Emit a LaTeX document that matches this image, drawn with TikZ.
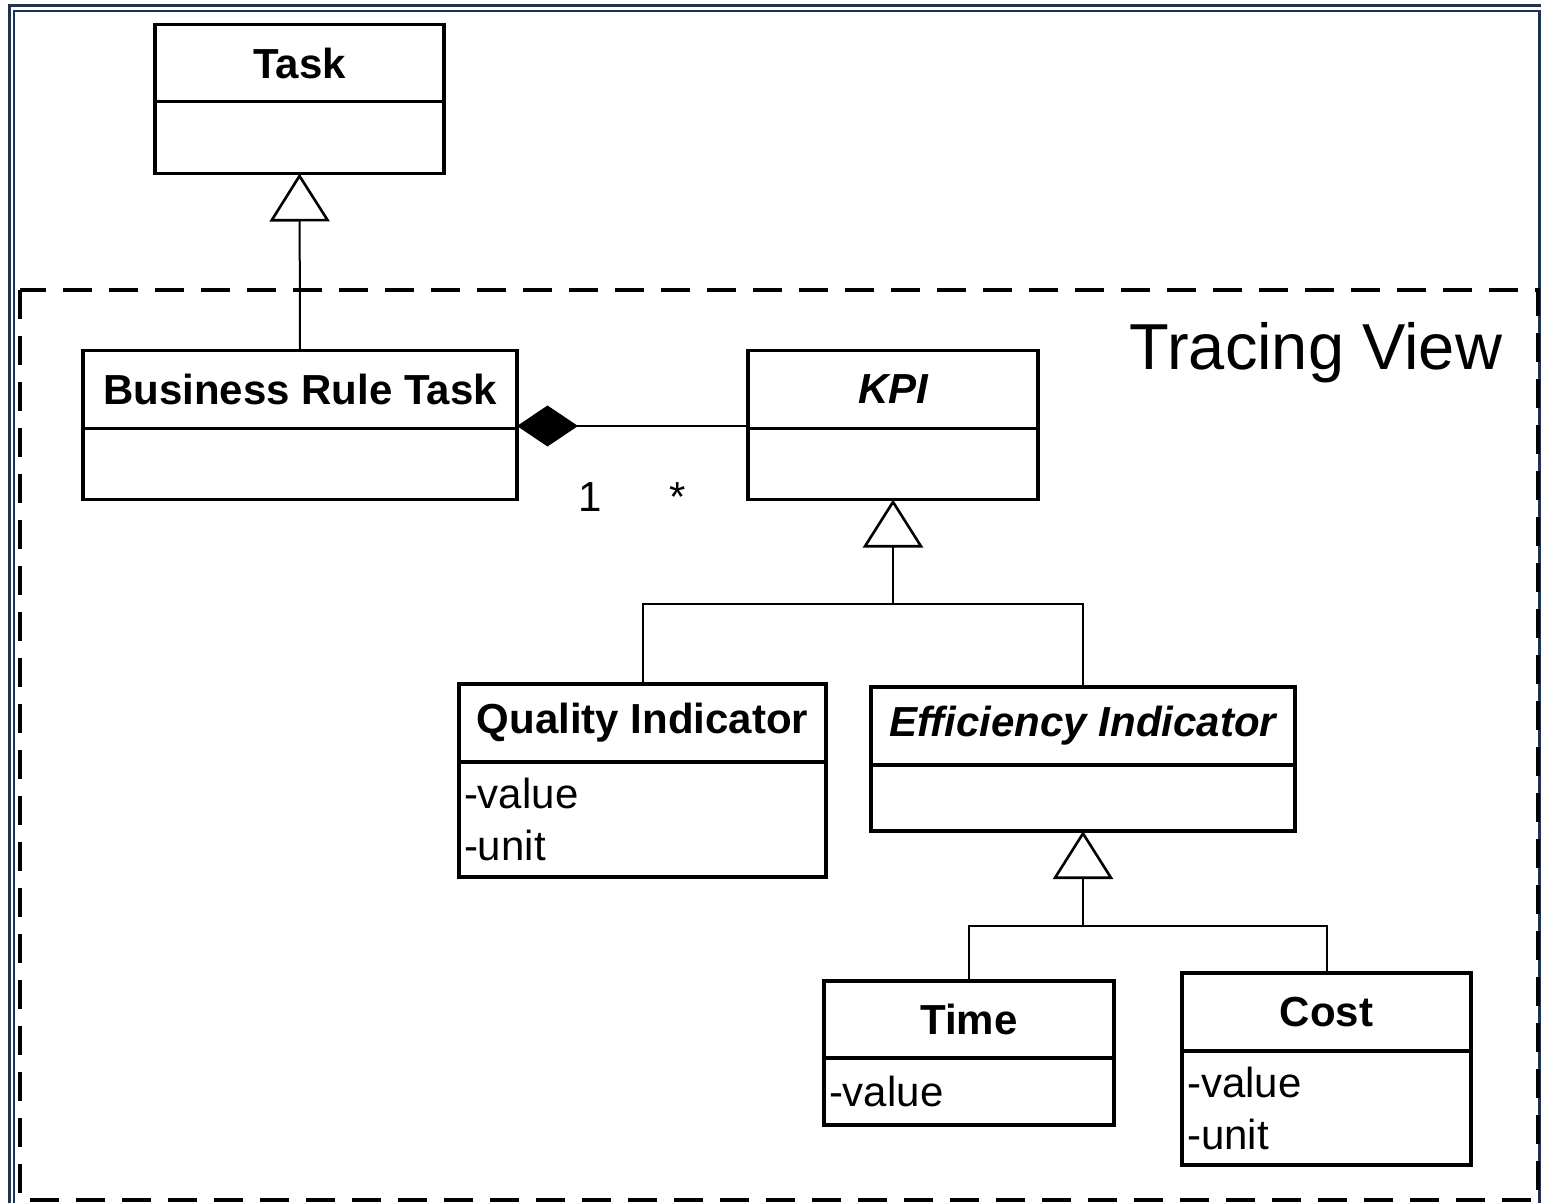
\documentclass[tikz,border=0pt]{standalone}
\usepackage{fontspec}
\setmainfont{Liberation Sans}
\usetikzlibrary{positioning}
\usetikzlibrary{arrows.meta}

\definecolor{framenavy}{RGB}{30,50,82}

\begin{document}
\begin{tikzpicture}[x=0.5pt, y=-0.5pt,
cls/.style={draw, line width=1.6pt, inner sep=0pt, outer sep=0pt, font=\fontsize{21}{25}\selectfont\bfseries},
abstract/.style={font=\fontsize{21}{25}\selectfont\bfseries\itshape},
attr/.style={draw, line width=1.6pt, inner xsep=2.5pt, inner ysep=0pt, outer sep=0pt, align=left, font=\fontsize{21}{26}\selectfont},
gen/.style={line width=1pt, -{Triangle[open, length=24pt, width=30pt, line width=1.3pt]}},
comp/.style={line width=1pt, {Diamond[length=30.5pt, width=20.5pt]}-},
mult/.style={anchor=base, font=\fontsize{21}{25}\selectfont},
txt/.style={font=\fontsize{32.5}{38}\selectfont}]
\useasboundingbox (0,0) rectangle (1541,1203);
% window frame
\draw[framenavy, line width=1.5pt] (9.5,1203) -- (9.5,6) -- (1541,6);
\draw[framenavy, line width=1.2pt] (14,1203) -- (14,11) -- (1539.5,11) -- (1539.5,1203);
% view boundary
\draw[line width=1.8pt, dash pattern=on 14.5pt off 8.5pt] (20,290) rectangle (1538,1200);
\node[txt, anchor=base] (viewtitle) at (1316,370) {Tracing View};

% classes
\node[cls, minimum width=144.5pt, minimum height=38.5pt] (taskname) at (299.5,63) {Task};
\node[attr, text width=139.5pt, minimum height=34.5pt+1.5pt, below=0pt of taskname] (taskattr) {};
\node[cls, minimum width=217pt, minimum height=39pt] (brtname) at (300,389.5) {Business Rule Task};
\node[attr, text width=212pt, minimum height=34pt+1.5pt, below=0pt of brtname] (brtattr) {};
\node[cls, abstract, minimum width=145pt, minimum height=39pt] (kpiname) at (893,389.5) {KPI};
\node[attr, text width=140pt, minimum height=34pt+1.5pt, below=0pt of kpiname] (kpiattr) {};
\node[cls, minimum width=183.5pt, minimum height=39pt] (qualname) at (642.5,723) {Quality Indicator};
\node[attr, text width=178.5pt, minimum height=57.5pt, below=0pt of qualname] (qualattr) {-value\\-unit};
\node[cls, abstract, minimum width=212pt, minimum height=39pt] (effname) at (1083,726) {Efficiency Indicator};
\node[attr, text width=207pt, minimum height=33pt, below=0pt of effname] (effattr) {};
\node[cls, minimum width=145pt, minimum height=38.5pt] (timename) at (969,1019.5) {Time};
\node[attr, text width=140pt, minimum height=33.5pt, below=0pt of timename] (timeattr) {-value};
\node[cls, minimum width=144.5pt, minimum height=39pt] (costname) at (1326.5,1012) {Cost};
\node[attr, text width=139.5pt, minimum height=57pt, below=0pt of costname] (costattr) {-value\\-unit};

\coordinate (kpijoin) at (893,604);
\coordinate (effjoin) at (1083,926);

% relations
\draw[gen] (brtname.north) -- (taskattr.south);
\draw[comp] ([yshift=1.25pt]brtname.south east) -- ([yshift=1.25pt]kpiname.south west)
  node[mult, pos=0.316, yshift=-42.5pt] {1}
  node[mult, pos=0.697, yshift=-42.5pt] {*};
\draw[gen] (qualname.north) |- (kpijoin) -- (kpiattr.south);
\draw[line width=1pt] (effname.north) |- (kpijoin);
\draw[gen] (timename.north) |- (effjoin) -- (effattr.south);
\draw[line width=1pt] (costname.north) |- (effjoin);
\end{tikzpicture}
\end{document}
